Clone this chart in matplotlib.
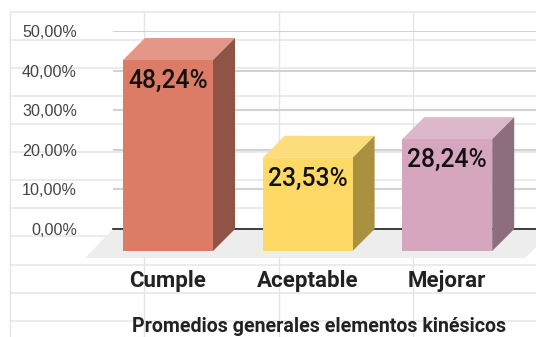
import matplotlib
matplotlib.use('Agg')
import matplotlib.pyplot as plt
from matplotlib.patches import Polygon

plt.rcParams['font.family'] = ['Liberation Sans', 'DejaVu Sans']

categories = ['Cumple', 'Aceptable', 'Mejorar']
values = [48.24, 23.53, 28.24]
value_labels = ['48,24%', '23,53%', '28,24%']
y_ticks = [0, 10, 20, 30, 40, 50]
y_tick_labels = ['0,00%', '10,00%', '20,00%', '30,00%', '40,00%', '50,00%']
title = 'Promedios generales elementos kinésicos'

front_colors = ['#DC7B66', '#FFD966', '#D5A6BD']
top_colors = ['#E49787', '#FDDC7C', '#DDB8CA']
side_colors = ['#8F5445', '#A9913F', '#8D6E7E']

W, H = 536, 337
sheet_rows = [12, 40, 68, 96, 124, 152, 180, 208, 236, 265, 293, 321]
sheet_cols = [10, 144, 279, 413]

px_per_pct = 3.96
bar_step = 139.6
bar_px = 90
depth = 22


def add_axes_px(fig, left, right, top, bottom):
    return fig.add_axes([left / W, 1 - bottom / H, (right - left) / W, (bottom - top) / H])


fig = plt.figure(figsize=(W / 100, H / 100), dpi=100, facecolor='white')

# spreadsheet behind the chart, in pixels
sheet = add_axes_px(fig, 0, W, 0, H)
sheet.set_xlim(0, W)
sheet.set_ylim(H, 0)
sheet.axis('off')
for r in sheet_rows:
    sheet.plot([10, W], [r, r], color='#E8E8E8', lw=1.2, solid_capstyle='butt')
for c in sheet_cols:
    sheet.plot([c, c], [12, H], color='#E4E4E4', lw=1.0, solid_capstyle='butt')
sheet.add_patch(Polygon([(85, 258), (113, 229), (W, 229), (W, 247), (525, 258)],
                        closed=True, facecolor='#EDEDED', edgecolor='none', zorder=3))

# back wall with the value axis
back = add_axes_px(fig, 113, W, 31, 229)
back.patch.set_visible(False)
back.set_xlim(0, 1)
back.set_ylim(0, 50)
back.set_xticks([])
back.set_yticks(y_ticks)
back.set_yticklabels(y_tick_labels, fontsize=11.6, color='#444444')
back.tick_params(axis='y', length=0, pad=26)
back.grid(axis='y', color='#D2D2D2', lw=1.5)
back.set_axisbelow(True)
back.axhline(0, color='#222222', lw=1.2, zorder=4, clip_on=False)
for s in back.spines.values():
    s.set_visible(False)

# front plane with the bars
ax = add_axes_px(fig, 0, W, 0, 251)
ax.patch.set_visible(False)
ax.set_xlim(-168 / bar_step, (W - 168) / bar_step)
ax.set_ylim(0, 251 / px_per_pct)
dx = depth / bar_step
dy = depth / px_per_pct
w = bar_px / bar_step

for i, v in enumerate(values):
    l, r = i - w / 2, i + w / 2
    ax.add_patch(Polygon([(l, v), (r, v), (r + dx, v + dy), (l + dx, v + dy)],
                         closed=True, facecolor=top_colors[i], edgecolor='none', zorder=2))
    ax.add_patch(Polygon([(r, 0), (r + dx, dy), (r + dx, v + dy), (r, v)],
                         closed=True, facecolor=side_colors[i], edgecolor='none', zorder=2))
ax.bar(range(len(values)), values, width=w, color=front_colors, zorder=3)

for i, v in enumerate(values):
    ax.text(i, v - 21 / px_per_pct, value_labels[i], ha='center', va='center',
            fontsize=17.7, fontweight='medium', family=['Roboto', 'DejaVu Sans'],
            color='#111111', zorder=5)

ax.set_xticks(range(len(categories)))
ax.set_xticklabels(categories, fontsize=16, fontweight='bold', color='#222222',
                   family=['Roboto', 'DejaVu Sans'])
ax.tick_params(axis='x', length=0, pad=13.5)
ax.set_yticks([])
for s in ax.spines.values():
    s.set_visible(False)

fig.text(319 / W, 1 - 326 / H, title, ha='center', va='center', fontsize=14.1,
         fontweight='bold', color='#222222', family=['Roboto', 'DejaVu Sans'])

fig.savefig('out.png', dpi=100)
